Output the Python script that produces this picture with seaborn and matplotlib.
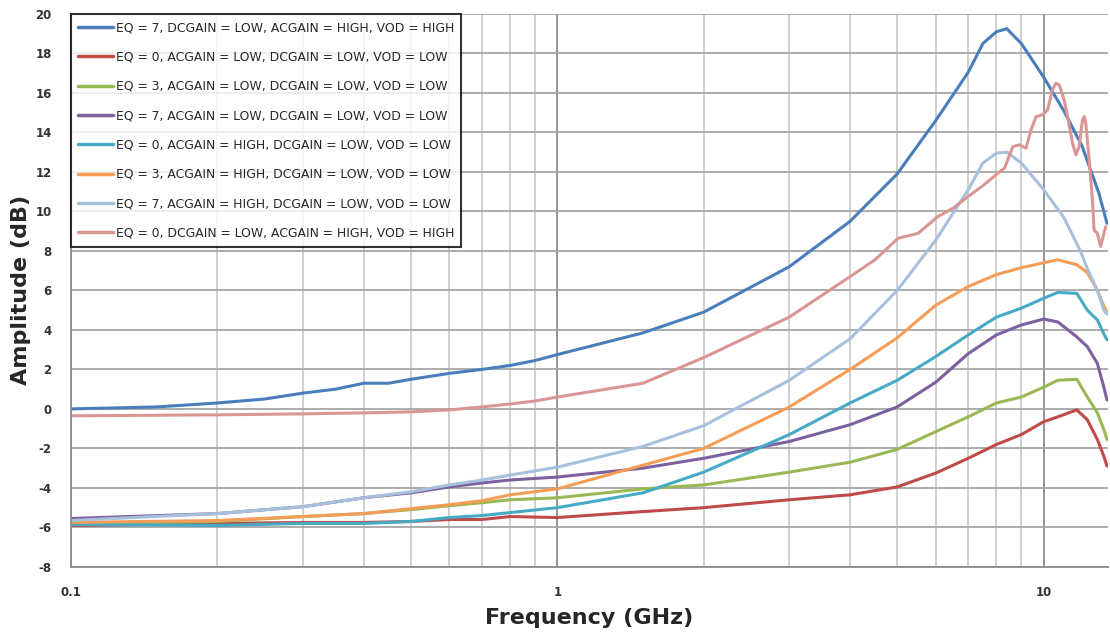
import numpy as np
import pandas as pd
import matplotlib
matplotlib.use("Agg")
import matplotlib.pyplot as plt
import seaborn as sns
from matplotlib.ticker import LogLocator, FixedLocator, FixedFormatter, NullFormatter

# frequency points (GHz)
f_main = [0.1, 0.15, 0.2, 0.25, 0.3, 0.35, 0.4, 0.45, 0.5, 0.6, 0.7, 0.8, 0.9, 1.0,
          1.5, 2, 3, 4, 5, 6, 7, 7.5, 8, 8.4, 9, 10, 11, 12, 13, 13.5]
amp_eq7_hi = [0.0, 0.1, 0.3, 0.5, 0.8, 1.0, 1.3, 1.3, 1.5, 1.8, 2.0, 2.2, 2.45, 2.75,
              3.85, 4.9, 7.2, 9.5, 11.9, 14.6, 17.05, 18.5, 19.1, 19.25, 18.5, 16.8, 15.1, 13.3, 10.9, 9.4]

f_low = [0.1, 0.2, 0.3, 0.4, 0.5, 0.6, 0.7, 0.8, 1.0, 1.5, 2, 3, 4, 5, 6, 7, 8,
         9, 10, 10.7, 11.7, 12.3, 12.9, 13.3, 13.5]
amp_eq0_lo = [-5.9, -5.8, -5.75, -5.75, -5.7, -5.6, -5.6, -5.45, -5.5, -5.2, -5.0, -4.6, -4.35,
              -3.95, -3.25, -2.5, -1.8, -1.3, -0.65, -0.4, -0.05, -0.55, -1.55, -2.4, -2.9]
amp_eq3_lo = [-5.8, -5.7, -5.45, -5.3, -5.1, -4.9, -4.75, -4.6, -4.5, -4.05, -3.85, -3.2, -2.7,
              -2.05, -1.15, -0.4, 0.3, 0.6, 1.1, 1.45, 1.5, 0.6, -0.2, -1.05, -1.55]
amp_eq7_lo = [-5.55, -5.3, -4.95, -4.5, -4.25, -3.95, -3.75, -3.6, -3.45, -3.0, -2.5, -1.65, -0.8,
              0.1, 1.35, 2.8, 3.75, 4.25, 4.55, 4.4, 3.65, 3.15, 2.3, 1.1, 0.45]
amp_eq0_ac = [-5.85, -5.9, -5.8, -5.8, -5.7, -5.5, -5.4, -5.25, -5.0, -4.25, -3.2, -1.3, 0.3,
              1.45, 2.65, 3.75, 4.65, 5.1, 5.6, 5.9, 5.85, 5.0, 4.5, 3.8, 3.5]
amp_eq3_ac = [-5.75, -5.65, -5.45, -5.3, -5.05, -4.85, -4.65, -4.35, -4.05, -2.85, -2.0, 0.1, 2.0,
              3.6, 5.25, 6.2, 6.8, 7.15, 7.4, 7.55, 7.3, 6.9, 6.0, 5.2, 4.9]

f_eq7_ac = [0.1, 0.2, 0.3, 0.4, 0.5, 0.6, 0.7, 0.8, 1.0, 1.5, 2, 3, 4, 5, 6, 7, 7.5, 8,
            8.4, 9, 10, 11, 11.9, 12.3, 12.9, 13.3, 13.5]
amp_eq7_ac = [-5.65, -5.3, -4.95, -4.5, -4.2, -3.85, -3.6, -3.35, -2.95, -1.9, -0.85, 1.45, 3.55,
              6.0, 8.55, 11.1, 12.45, 12.95, 13.0, 12.45, 11.1, 9.7, 8.0, 7.1, 6.0, 5.0, 4.8]

f_eq0_hi = [0.1, 0.2, 0.3, 0.4, 0.5, 0.6, 0.7, 0.8, 0.9, 1.0, 1.5, 2, 3, 4, 4.5, 5.02, 5.52,
            6.06, 6.51, 6.99, 7.5, 8.05, 8.31, 8.64, 8.92, 9.2, 9.42, 9.65, 9.95, 10.19, 10.43,
            10.6, 10.77, 11.02, 11.2, 11.47, 11.65, 11.83, 12.02, 12.12, 12.21, 12.41, 12.6,
            12.7, 12.9, 13.1, 13.2, 13.42]
amp_eq0_hi = [-0.35, -0.3, -0.25, -0.2, -0.15, -0.05, 0.1, 0.25, 0.4, 0.6, 1.3, 2.6, 4.65, 6.7,
              7.55, 8.64, 8.89, 9.74, 10.16, 10.75, 11.3, 11.93, 12.19, 13.28, 13.37, 13.2, 14.13,
              14.8, 14.89, 15.14, 16.15, 16.49, 16.4, 15.65, 14.8, 13.45, 12.86, 13.28, 14.63,
              14.8, 14.46, 12.6, 10.58, 9.06, 8.89, 8.22, 8.56, 9.23]

labels = [
    "EQ = 7, DCGAIN = LOW, ACGAIN = HIGH, VOD = HIGH",
    "EQ = 0, ACGAIN = LOW, DCGAIN = LOW, VOD = LOW",
    "EQ = 3, ACGAIN = LOW, DCGAIN = LOW, VOD = LOW",
    "EQ = 7, ACGAIN = LOW, DCGAIN = LOW, VOD = LOW",
    "EQ = 0, ACGAIN = HIGH, DCGAIN = LOW, VOD = LOW",
    "EQ = 3, ACGAIN = HIGH, DCGAIN = LOW, VOD = LOW",
    "EQ = 7, ACGAIN = HIGH, DCGAIN = LOW, VOD = LOW",
    "EQ = 0, DCGAIN = LOW, ACGAIN = HIGH, VOD = HIGH",
]
colors = ["#4A7EBB", "#BE4B48", "#98B954", "#7D60A0", "#46AAC5", "#F59D56", "#A7C0DE", "#DA9694"]

series = [
    (f_main, amp_eq7_hi), (f_low, amp_eq0_lo), (f_low, amp_eq3_lo), (f_low, amp_eq7_lo),
    (f_low, amp_eq0_ac), (f_low, amp_eq3_ac), (f_eq7_ac, amp_eq7_ac), (f_eq0_hi, amp_eq0_hi),
]
frames = []
for lab, (fx, ay) in zip(labels, series):
    frames.append(pd.DataFrame({"freq": fx, "amp": ay, "curve": lab}))
df = pd.concat(frames, ignore_index=True)

sns.set_style("white")
plt.rcParams["font.family"] = ["DejaVu Sans"]
plt.rcParams["axes.unicode_minus"] = False

fig = plt.figure(figsize=(11.1, 6.32), dpi=100)
ax = fig.add_axes([0.064, 0.103, 0.934, 0.875])

sns.lineplot(data=df, x="freq", y="amp", hue="curve", hue_order=labels,
             palette=colors, estimator=None, sort=False, linewidth=2.2, ax=ax)

ax.set_xscale("log")
ax.set_xlim(0.1, 13.55)
ax.set_ylim(-8, 20)
ax.set_yticks(range(-8, 21, 2))

ax.xaxis.set_major_locator(FixedLocator([0.1, 1, 10]))
ax.xaxis.set_major_formatter(FixedFormatter(["0.1", "1", "10"]))
ax.xaxis.set_minor_locator(LogLocator(base=10, subs=np.arange(2, 10)))
ax.xaxis.set_minor_formatter(NullFormatter())

ax.grid(True, which="major", axis="y", color="#A6A6A6", linewidth=1.3)
ax.grid(True, which="major", axis="x", color="#8C8C8C", linewidth=1.3)
ax.grid(True, which="minor", axis="x", color="#C8C8C8", linewidth=1.2)
ax.set_axisbelow(True)

for s in ["top", "right"]:
    ax.spines[s].set_visible(False)
for s in ["left", "bottom"]:
    ax.spines[s].set_color("#8C8C8C")
    ax.spines[s].set_linewidth(1.3)

ax.tick_params(axis="both", which="both", length=0)
ax.tick_params(axis="y", pad=14, labelsize=8.5)
ax.tick_params(axis="x", pad=14, labelsize=8.5)
for t in ax.get_xticklabels() + ax.get_yticklabels():
    t.set_fontweight("bold")
    t.set_color("#333333")

ax.set_xlabel("Frequency (GHz)", fontsize=16, fontweight="bold", labelpad=6)
ax.set_ylabel("Amplitude (dB)", fontsize=16, fontweight="bold", labelpad=3)

leg = ax.legend(loc="upper left", borderaxespad=0, fontsize=8.9, frameon=True,
                fancybox=False, handlelength=2.8, handletextpad=0.2,
                labelspacing=1.32, borderpad=0.6, title=None)
leg.get_frame().set_edgecolor("black")
leg.get_frame().set_linewidth(1.5)
for line in leg.get_lines():
    line.set_linewidth(2.5)

fig.savefig("out.png", dpi=100)
